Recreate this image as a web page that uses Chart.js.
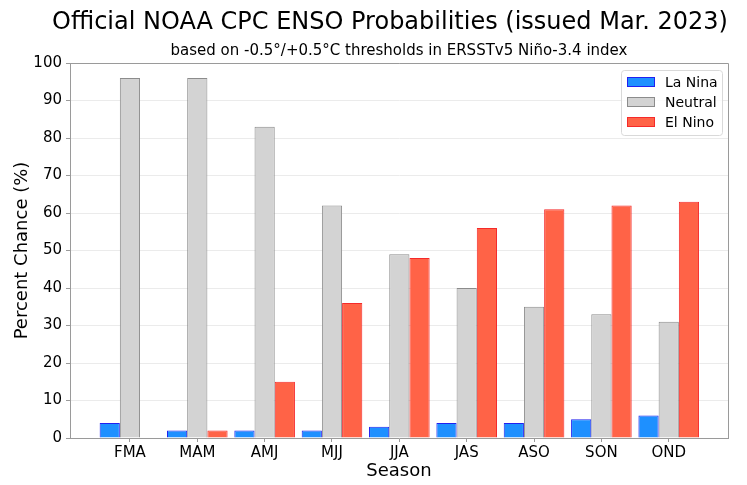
<!DOCTYPE html>
<html>
<head>
<meta charset="utf-8">
<script src="https://cdn.jsdelivr.net/npm/chart.js@4"></script>
<style>
  html, body { margin: 0; padding: 0; background: #fff; }
  #wrap { width: 747px; height: 485px; }
</style>
</head>
<body>
<div id="wrap"><canvas id="chart"></canvas></div>
<script>
const seasons = ["FMA", "MAM", "AMJ", "MJJ", "JJA", "JAS", "ASO", "SON", "OND"];
const laNina = [4, 2, 2, 2, 3, 4, 4, 5, 6];
const neutral = [96, 96, 83, 62, 49, 40, 35, 33, 31];
const elNino = [0, 2, 15, 36, 48, 56, 61, 62, 63];
const yTicks = [0, 10, 20, 30, 40, 50, 60, 70, 80, 90, 100];

const FONT = "'DejaVu Sans', sans-serif";
const AXIS = "#9a9a9a";

function toPoints(values) {
    return values.map((v, i) => ({ x: i, y: v }));
}

// titles, frame and legend drawn over the plot
const decor = {
    id: "decor",
    afterDraw(chart) {
        const ctx = chart.ctx;
        const area = chart.chartArea;
        ctx.save();

        // frame on top and right
        ctx.strokeStyle = AXIS;
        ctx.lineWidth = 1;
        ctx.beginPath();
        ctx.moveTo(area.left, area.top + 0.5);
        ctx.lineTo(area.right + 0.5, area.top + 0.5);
        ctx.lineTo(area.right + 0.5, area.bottom);
        ctx.stroke();

        ctx.fillStyle = "#000";
        ctx.textAlign = "center";
        ctx.textBaseline = "middle";
        ctx.font = "24px " + FONT;
        ctx.fillText("Official NOAA CPC ENSO Probabilities (issued Mar. 2023)", 390, 23);
        ctx.font = "15px " + FONT;
        ctx.fillText("based on -0.5°/+0.5°C thresholds in ERSSTv5 Niño-3.4 index", (area.left + area.right) / 2, 51);

        // legend
        const bx = 621, by = 70, bw = 101, bh = 65;
        ctx.fillStyle = "rgba(255,255,255,0.8)";
        ctx.strokeStyle = "#d9d9d9";
        ctx.beginPath();
        ctx.roundRect(bx + 0.5, by + 0.5, bw, bh, 3);
        ctx.fill();
        ctx.stroke();
        ctx.font = "14px " + FONT;
        ctx.textAlign = "left";
        chart.data.datasets.forEach((ds, i) => {
            const y = by + 12 + i * 20;
            ctx.fillStyle = ds.backgroundColor;
            ctx.strokeStyle = ds.borderColor;
            ctx.fillRect(627.5, y - 4.5, 27, 9);
            ctx.strokeRect(627.5, y - 4.5, 27, 9);
            ctx.fillStyle = "#000";
            ctx.fillText(ds.label, 665, y + 1);
        });
        ctx.restore();
    }
};

const ctx = document.getElementById("chart").getContext("2d");
new Chart(ctx, {
    type: "bar",
    data: {
        datasets: [
            { label: "La Nina", data: toPoints(laNina), backgroundColor: "#1e90ff", borderColor: "#2020f0", borderWidth: 1 },
            { label: "Neutral", data: toPoints(neutral), backgroundColor: "#d3d3d3", borderColor: "#8c8c8c", borderWidth: 1 },
            { label: "El Nino", data: toPoints(elNino), backgroundColor: "#ff6347", borderColor: "#f52a2a", borderWidth: 1 }
        ]
    },
    options: {
        responsive: true,
        maintainAspectRatio: false,
        animation: false,
        layout: { padding: { top: 63, right: 19, left: 0, bottom: 0 } },
        datasets: { bar: { categoryPercentage: 0.9, barPercentage: 1.0, borderSkipped: "start" } },
        plugins: {
            legend: { display: false },
            tooltip: { enabled: false }
        },
        scales: {
            x: {
                type: "linear",
                offset: false,
                min: -0.89,
                max: 8.88,
                afterBuildTicks: s => { s.ticks = seasons.map((_, i) => ({ value: i })); },
                afterFit: s => { s.height = 47; },
                ticks: {
                    autoSkip: false,
                    maxRotation: 0,
                    padding: 2,
                    color: "#000",
                    font: { family: FONT, size: 15 },
                    callback: v => seasons[v]
                },
                grid: { drawOnChartArea: false, drawTicks: true, tickLength: 4, tickColor: AXIS, offset: false },
                border: { color: AXIS },
                title: {
                    display: true,
                    text: "Season",
                    color: "#000",
                    font: { family: FONT, size: 18 },
                    padding: { top: 0, bottom: 3 }
                }
            },
            y: {
                min: 0,
                max: 100,
                afterBuildTicks: s => { s.ticks = yTicks.map(v => ({ value: v })); },
                afterFit: s => { s.width = 70; },
                ticks: {
                    color: "#000",
                    padding: 4,
                    font: { family: FONT, size: 15 }
                },
                grid: { color: "#ebebeb", tickColor: AXIS, tickLength: 4 },
                border: { color: AXIS },
                title: {
                    display: true,
                    text: "Percent Chance (%)",
                    color: "#000",
                    font: { family: FONT, size: 18 },
                    padding: { top: 12, bottom: 0 }
                }
            }
        }
    },
    plugins: [decor]
});
</script>
</body>
</html>
